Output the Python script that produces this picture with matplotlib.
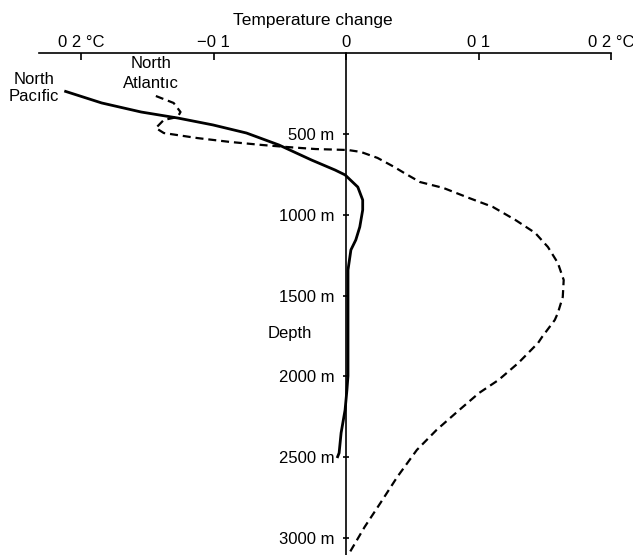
import numpy as np
import matplotlib
matplotlib.use("Agg")
import matplotlib.pyplot as plt

plt.rcParams['font.family'] = ['Liberation Sans', 'DejaVu Sans']
plt.rcParams['font.size'] = 12

# temperature change (degC) vs depth (m)
pacific_temp = [-0.2126, -0.1844, -0.1546, -0.1271, -0.1004, -0.0751, -0.0506, -0.0260,
                -0.0082, -0.0007, 0.0089, 0.0126, 0.0126, 0.0104, 0.0074, 0.0037,
                0.0015, 0.0015, 0.0015, 0.0007, -0.0007, -0.0037, -0.0052, -0.0067]
pacific_depth = [235, 309, 365, 402, 445, 495, 569, 662,
                 724, 754, 829, 909, 971, 1076, 1156, 1218,
                 1342, 1713, 1997, 2084, 2208, 2350, 2474, 2505]

atlantic_temp = [-0.1435, -0.1301, -0.1249, -0.1271, -0.1375, -0.1435, -0.1375, -0.1123,
                 -0.0877, -0.0632, -0.0454, -0.0230, 0.0015, 0.0112, 0.0238, 0.0364,
                 0.0439, 0.0558, 0.0736, 0.0929, 0.1108, 0.1279, 0.1428, 0.1524,
                 0.1599, 0.1643, 0.1636, 0.1599, 0.1576, 0.1480, 0.1450, 0.1301,
                 0.1152, 0.1004, 0.0855, 0.0684, 0.0535, 0.0387, 0.0260, 0.0141, 0.0030]
atlantic_depth = [266, 309, 365, 396, 414, 464, 495, 526,
                  550, 569, 581, 594, 600, 612, 649, 705,
                  742, 798, 835, 897, 952, 1033, 1113, 1200,
                  1299, 1404, 1509, 1608, 1651, 1756, 1793, 1917,
                  2022, 2103, 2208, 2331, 2455, 2622, 2783, 2931, 3086]

temp_ticks = [-0.2, -0.1, 0, 0.1, 0.2]
temp_labels = ['0 2 \u00b0C', '\u22120 1', '0', '0 1', '0 2 \u00b0C']
depth_ticks = [500, 1000, 1500, 2000, 2500, 3000]
depth_labels = ['%d m' % d for d in depth_ticks]

W, H = 633, 555
fig = plt.figure(figsize=(W / 100, H / 100), dpi=100)
ax = fig.add_axes([39 / W, 0, 572 / W, (H - 53) / H])

ax.plot(pacific_temp, pacific_depth, color='black', lw=2.0,
        solid_capstyle='butt', solid_joinstyle='round')
ax.plot(atlantic_temp, atlantic_depth, color='black', lw=1.6, dashes=(3.6, 2.2))

ax.set_xlim(-0.2317, 0.2)
ax.set_ylim(3105, 0)

# spines: top axis line plus a vertical one through zero
for side in ['bottom', 'right']:
    ax.spines[side].set_visible(False)
ax.spines['top'].set_linewidth(1.2)
ax.spines['left'].set_position(('data', 0))
ax.spines['left'].set_linewidth(1.2)

ax.set_xticks(temp_ticks)
ax.set_xticklabels(temp_labels)
ax.tick_params(axis='x', top=True, bottom=False, labeltop=True, labelbottom=False,
               direction='in', length=5, width=1.2, pad=2)
ax.set_yticks(depth_ticks)
ax.set_yticklabels(depth_labels)
ax.tick_params(axis='y', direction='inout', length=5, width=1.2, pad=6)

fig.text(313 / W, 1 - 20 / H, 'Temperature change', ha='center', va='center', fontsize=12.5)
ax.text(-0.0423, 1732, 'Depth', ha='center', va='center')
ax.text(-0.2355, 161, 'North', ha='center', va='center', clip_on=False)
ax.text(-0.2355, 270, 'Pac\u0131fic', ha='center', va='center', clip_on=False)
ax.text(-0.1472, 62, 'North', ha='center', va='center')
ax.text(-0.1472, 186, 'Atlant\u0131c', ha='center', va='center')

fig.savefig('out.png', dpi=100)
